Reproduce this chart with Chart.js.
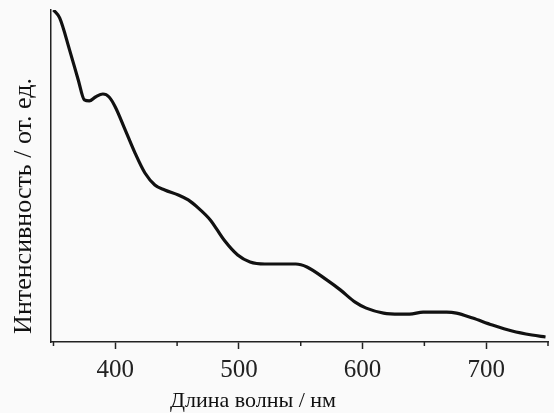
<!DOCTYPE html>
<html>
<head>
<meta charset="utf-8">
<script src="https://cdn.jsdelivr.net/npm/chart.js@4"></script>
<style>
  html, body { margin: 0; padding: 0; background: #fafafa; }
  #wrap { width: 554px; height: 413px; }
</style>
</head>
<body>
<div id="wrap"><canvas id="spectrum"></canvas></div>
<script>
// wavelength (nm) and intensity (arb. units)
const wavelengths = [350, 355, 363, 370, 375, 379, 384, 390, 395, 400, 408, 416, 424, 432, 440, 451, 459, 467, 477, 488, 499, 509, 521, 535, 546, 555, 571, 582, 594, 603, 617, 630, 638, 649, 668, 676, 689, 705, 721, 737, 748];
const intensity = [1.0, 0.976, 0.88, 0.79, 0.729, 0.726, 0.738, 0.747, 0.738, 0.708, 0.639, 0.569, 0.509, 0.473, 0.458, 0.443, 0.428, 0.404, 0.367, 0.307, 0.262, 0.241, 0.235, 0.235, 0.235, 0.226, 0.187, 0.157, 0.12, 0.102, 0.087, 0.084, 0.084, 0.09, 0.09, 0.087, 0.072, 0.051, 0.033, 0.021, 0.015];
const majorTicks = [400, 500, 600, 700];
const minorTicks = [350, 450, 550, 650, 750];
const xTitle = 'Длина волны / нм';
const yTitle = 'Интенсивность / от. ед.';

const serif = 'Liberation Serif';
const allTicks = minorTicks.concat(majorTicks).sort((a, b) => a - b);

const points = wavelengths.map((w, i) => ({ x: w, y: intensity[i] }));

// page background, short minor ticks and the two axis titles
const paperPlugin = {
  id: 'paper',
  beforeDraw(chart) {
    const ctx = chart.ctx;
    ctx.save();
    ctx.fillStyle = '#fafafa';
    ctx.fillRect(0, 0, chart.width, chart.height);
    ctx.restore();
  },
  afterDraw(chart) {
    const ctx = chart.ctx;
    const xs = chart.scales.x;
    ctx.save();
    ctx.strokeStyle = '#222';
    ctx.lineWidth = 1.5;
    minorTicks.forEach(v => {
      const px = xs.getPixelForValue(v);
      ctx.beginPath();
      ctx.moveTo(px, xs.top);
      ctx.lineTo(px, xs.top + 4);
      ctx.stroke();
    });

    ctx.fillStyle = '#111';
    ctx.textAlign = 'center';
    ctx.textBaseline = 'middle';
    ctx.font = '22px "' + serif + '"';
    ctx.fillText(xTitle, 253, 401);

    ctx.translate(24, 206);
    ctx.rotate(-Math.PI / 2);
    ctx.font = '26px "' + serif + '"';
    ctx.fillText(yTitle, 0, 0);
    ctx.restore();
  }
};

new Chart(document.getElementById('spectrum').getContext('2d'), {
  type: 'line',
  data: {
    datasets: [{
      data: points,
      borderColor: '#111',
      borderWidth: 3.2,
      pointRadius: 0,
      tension: 0.4,
      cubicInterpolationMode: 'monotone'
    }]
  },
  options: {
    responsive: true,
    maintainAspectRatio: false,
    animation: false,
    layout: { padding: { top: 10, right: 1, left: 0, bottom: 0 } },
    plugins: { legend: { display: false }, tooltip: { enabled: false } },
    scales: {
      x: {
        type: 'linear',
        min: 348,
        max: 750.4,
        afterBuildTicks: s => { s.ticks = allTicks.map(v => ({ value: v })); },
        afterFit: s => { s.height = 71; },
        border: { color: '#222', width: 1.5 },
        grid: {
          drawOnChartArea: false,
          drawTicks: true,
          tickLength: 7,
          tickWidth: 1.5,
          tickColor: c => (majorTicks.includes(c.tick.value) ? '#222' : 'rgba(0,0,0,0)')
        },
        ticks: {
          color: '#222',
          padding: 6,
          maxRotation: 0,
          autoSkip: false,
          font: { family: serif, size: 25 },
          callback: v => (majorTicks.includes(v) ? String(v) : '')
        },
        title: { display: false }
      },
      y: {
        min: 0,
        max: 1,
        afterFit: s => { s.width = 51; },
        border: { color: '#222', width: 1.5 },
        grid: { display: false },
        ticks: { display: false },
        title: { display: false }
      }
    }
  },
  plugins: [paperPlugin]
});
</script>
</body>
</html>
